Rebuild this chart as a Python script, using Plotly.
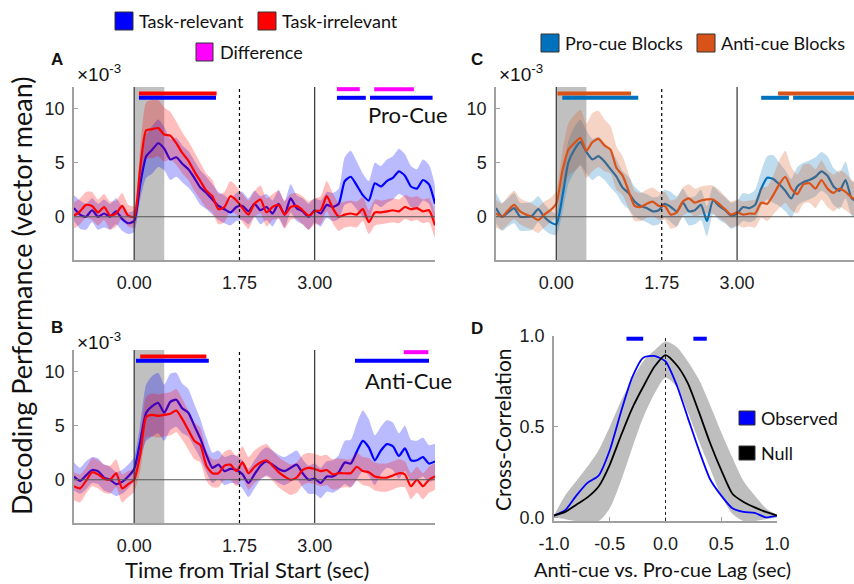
import plotly.graph_objects as go

W, H = 854, 584

# ---------------- data ----------------
t = [round(-1.0 + 0.1 * i, 1) for i in range(61)]

A_rel = [0.8, 0.2, 0.0, 0.6, 0.0, 0.3, 0.0, 0.5, -0.2, -0.6,
         -0.4, 3.0, 5.6, 6.2, 6.8, 6.3, 5.3, 5.5, 4.9, 4.4,
         3.6, 2.7, 2.2, 1.6, 1.0, 0.7, 0.4, 0.9, 1.0, 0.5,
         1.2, 0.6, 0.9, 0.3, 1.2, 0.2, 1.7, 0.8, 0.5, 0.0,
         0.6, 0.3, 1.1, 0.9, 1.2, 3.3, 3.7, 2.9, 2.0, 1.5,
         3.1, 2.8, 3.3, 3.6, 4.2, 3.8, 2.8, 2.6, 3.4, 3.0, 1.2]
A_irr = [0.1, 0.5, 1.1, 1.0, 0.4, 0.9, 0.1, 0.3, 1.0, 0.1,
         0.0, 4.5, 8.0, 8.1, 8.2, 7.6, 7.5, 6.8, 5.9, 5.2,
         4.2, 3.3, 2.4, 1.9, 0.7, 0.9, 1.9, 1.5, 0.8, 0.2,
         1.2, 1.6, 0.4, 0.9, 1.1, 0.2, 0.9, 1.0, 0.6, 0.1,
         0.5, 0.6, 1.9, 0.8, 0.0, 0.2, 0.3, 0.2, 0.7, -0.5,
         0.4, 0.4, 0.5, 0.6, 0.5, 0.9, 0.7, 0.8, 0.5, 0.6, -0.8]
A_rel_sem = [1.2, 1.3, 1.2, 1.1, 1.2, 1.3, 1.2, 1.2, 1.1, 1.0, 1.0,
             1.4, 2.0, 2.2, 2.2, 2.0, 1.9, 1.8, 1.7, 1.7, 1.6, 1.6, 1.5, 1.4, 1.3, 1.3,
             1.2, 1.3, 1.3, 1.2, 1.2, 1.3, 1.2, 1.2, 1.3, 1.2, 1.3, 1.2, 1.2, 1.2, 1.1, 1.2, 1.2, 1.3, 1.4,
             2.2, 2.4, 2.2, 2.0, 1.8, 1.9, 1.9, 2.0, 2.0, 2.1, 2.0, 1.9, 1.8, 1.9, 1.8, 1.6]
A_irr_sem = [1.2, 1.2, 1.2, 1.3, 1.2, 1.2, 1.3, 1.2, 1.2, 1.0, 1.0,
             1.8, 2.6, 2.7, 2.6, 2.5, 2.2, 2.0, 1.9, 1.8, 1.8, 1.7, 1.6, 1.5, 1.4, 1.4,
             1.4, 1.3, 1.3, 1.3, 1.2, 1.3, 1.3, 1.2, 1.3, 1.3, 1.2, 1.2, 1.3, 1.3, 1.2, 1.3, 1.4, 1.4, 1.3,
             1.2, 1.2, 1.2, 1.1, 1.1, 1.2, 1.1, 1.1, 1.1, 1.1, 1.1, 1.1, 1.1, 1.1, 1.1, 1.1]

B_rel = [0.3, -0.1, 0.4, 0.9, 0.8, 0.2, 0.0, -0.4, -0.2, 0.3,
         1.0, 3.5, 6.2, 6.8, 7.1, 6.2, 7.2, 7.4, 6.6, 6.2,
         5.0, 3.8, 2.3, 1.1, 1.4, 0.8, 1.0, 0.9, 0.5, -0.3,
         0.5, 1.3, 1.7, 1.4, 1.0, 0.8, 1.1, 1.4, 0.6, 0.0,
         0.1, -0.3, 0.3, 0.3, 0.7, 1.6, 1.5, 2.6, 3.6, 3.0,
         1.8, 2.7, 3.3, 3.1, 2.2, 2.9, 1.8, 1.8, 2.1, 1.5, 1.7]
B_irr = [-0.6, -0.8, -0.1, 0.7, 0.5, 0.1, 0.0, 0.6, -0.8, -0.4,
         0.0, 2.3, 5.8, 6.0, 5.9, 6.0, 6.1, 6.4, 5.6, 4.6,
         3.6, 3.2, 1.3, 0.6, 0.6, 1.3, 1.4, 0.8, 1.6, 0.6,
         1.2, 1.6, 1.8, 1.3, 0.7, 0.3, 0.0, 0.2, 0.9, 1.1,
         1.0, 0.8, 0.9, 0.5, 0.6, 0.6, 0.6, 1.2, 0.8, 0.7,
         0.3, 0.2, 0.2, 0.4, 0.6, 0.5, -0.6, 0.0, -0.6, 0.0, 0.3]
B_rel_sem = [1.3, 1.2, 1.3, 1.2, 1.2, 1.2, 1.2, 1.1, 1.1, 1.1, 1.1,
             1.6, 2.6, 2.8, 2.8, 2.6, 2.6, 2.5, 2.3, 2.2, 2.0, 1.8, 1.6, 1.4, 1.3, 1.3,
             1.3, 1.3, 1.3, 1.3, 1.3, 1.3, 1.3, 1.3, 1.3, 1.3, 1.3, 1.3, 1.3, 1.3, 1.4, 1.4, 1.4, 1.5, 1.6,
             2.0, 2.2, 2.6, 2.8, 2.6, 2.3, 2.2, 2.2, 2.2, 2.1, 2.1, 1.9, 1.8, 1.8, 1.7, 1.6]
B_irr_sem = [1.3, 1.3, 1.2, 1.3, 1.3, 1.3, 1.3, 1.3, 1.3, 1.2, 1.1,
             1.5, 1.9, 2.0, 2.0, 2.0, 2.0, 2.0, 1.9, 1.8, 1.7, 1.6, 1.4, 1.3, 1.3, 1.3,
             1.4, 1.4, 1.5, 1.5, 1.5, 1.5, 1.5, 1.4, 1.4, 1.4, 1.4, 1.4, 1.4, 1.4, 1.4, 1.4, 1.4, 1.4, 1.4,
             1.3, 1.3, 1.3, 1.3, 1.3, 1.3, 1.3, 1.3, 1.3, 1.3, 1.2, 1.2, 1.2, 1.2, 1.2, 1.2]

C_pro = [0.8, 0.0, 0.4, 0.8, 0.0, 0.0, 0.1, 0.7, 0.0, -0.5,
         -0.7, 1.8, 5.0, 6.2, 6.9, 6.0, 5.3, 5.6, 5.1, 4.4,
         3.7, 2.7, 2.2, 1.4, 1.0, 0.8, 0.5, 0.6, 1.2, 0.9,
         0.5, 1.3, 0.5, 0.6, 1.1, -0.4, 1.5, 1.0, 0.6, 0.1,
         0.3, 0.9, 0.8, 1.1, 2.6, 3.6, 3.5, 3.0, 2.4, 1.7,
         2.8, 3.2, 3.4, 3.7, 4.2, 3.8, 2.8, 2.4, 3.4, 1.7, 1.4]
C_anti = [0.3, 0.0, 0.6, 1.1, 0.5, 0.2, 0.0, -0.3, 0.2, 0.6,
          1.2, 4.2, 6.2, 6.8, 7.3, 6.1, 6.9, 7.2, 6.6, 6.2,
          4.5, 3.8, 2.4, 1.0, 0.9, 1.2, 1.4, 1.0, 1.0, 0.2,
          0.4, 1.4, 1.7, 1.3, 1.5, 1.6, 1.6, 1.2, 0.7, 0.2,
          0.4, 0.2, 0.3, 0.3, 1.3, 1.2, 2.0, 3.0, 3.7, 2.6,
          2.1, 3.0, 3.1, 2.6, 3.4, 2.6, 2.2, 2.6, 2.3, 1.8, 1.5]
C_pro_sem = [1.4, 1.3, 1.3, 1.4, 1.3, 1.3, 1.3, 1.2, 1.2, 1.1, 1.0,
             1.5, 2.0, 2.1, 2.1, 2.0, 1.9, 1.8, 1.7, 1.7, 1.6, 1.5, 1.5, 1.4, 1.3, 1.3,
             1.3, 1.3, 1.3, 1.4, 1.4, 1.3, 1.3, 1.3, 1.4, 1.4, 1.3, 1.3, 1.2, 1.2, 1.2, 1.3, 1.3, 1.4, 1.6,
             2.0, 2.2, 2.0, 1.9, 1.8, 1.8, 1.8, 1.8, 1.8, 1.8, 1.8, 1.7, 1.7, 1.7, 1.6, 1.6]
C_anti_sem = [1.3, 1.2, 1.3, 1.3, 1.2, 1.2, 1.2, 1.2, 1.2, 1.1, 1.2,
              1.8, 2.4, 2.6, 2.6, 2.5, 2.7, 2.6, 2.4, 2.2, 2.0, 1.8, 1.6, 1.4, 1.3, 1.3,
              1.3, 1.3, 1.3, 1.3, 1.3, 1.3, 1.3, 1.3, 1.3, 1.3, 1.3, 1.3, 1.2, 1.2, 1.2, 1.2, 1.2, 1.3, 1.4,
              1.6, 1.8, 2.2, 2.4, 2.0, 1.8, 1.8, 1.8, 1.8, 1.8, 1.7, 1.7, 1.7, 1.7, 1.6, 1.6]

# significance bars (start, end) in seconds
A_sig_irr = [(0.08, 1.37)]
A_sig_rel = [(0.08, 1.36), (3.37, 3.85), (3.92, 4.96)]
A_sig_diff = [(3.37, 3.75), (3.99, 4.65)]
B_sig_irr = [(0.10, 1.20)]
B_sig_rel = [(0.03, 1.24), (3.67, 4.90)]
B_sig_diff = [(4.48, 4.89)]
C_sig_anti = [(0.02, 1.24), (3.68, 5.0)]
C_sig_pro = [(0.10, 1.36), (3.40, 3.86), (3.93, 5.0)]
D_sig_obs = [(-0.35, -0.20), (0.25, 0.37)]

# cross-correlation panel
lag = [round(-1.0 + 0.1 * i, 1) for i in range(21)]
D_null = [0.01, 0.03, 0.07, 0.11, 0.17, 0.29, 0.45, 0.60, 0.72, 0.83, 0.895,
          0.84, 0.74, 0.58, 0.41, 0.26, 0.13, 0.085, 0.055, 0.03, 0.01]
D_obs = [0.01, 0.04, 0.12, 0.19, 0.23, 0.37, 0.58, 0.77, 0.88, 0.89, 0.86,
         0.73, 0.55, 0.37, 0.21, 0.12, 0.05, 0.03, 0.025, 0.0, 0.01]
D_null_hi = [0.01, 0.12, 0.20, 0.28, 0.37, 0.50, 0.64, 0.76, 0.86, 0.92, 0.97,
             0.94, 0.86, 0.76, 0.62, 0.47, 0.33, 0.20, 0.12, 0.05, 0.01]
D_null_lo = [0.0, -0.01, -0.02, -0.02, -0.02, 0.05, 0.20, 0.38, 0.55, 0.68, 0.77,
             0.72, 0.58, 0.42, 0.27, 0.12, 0.02, -0.02, -0.02, -0.01, 0.0]

event_times = [0.0, 1.75, 3.0]
cue_window = (0.0, 0.5)

# ---------------- helpers ----------------
TICKF = "Liberation Sans"
TEXTF = "Lato"


def PX(x):
    return x / W


def PY(y):
    return 1 - y / H


fig = go.Figure()


def band(xax, yax, x, m, s, fillcol):
    up = [a + b for a, b in zip(m, s)]
    lo = [a - b for a, b in zip(m, s)]
    fig.add_trace(go.Scatter(x=list(x) + list(x)[::-1], y=up + lo[::-1], fill="toself",
                             fillcolor=fillcol, line=dict(width=0, shape="spline", smoothing=0.6),
                             mode="lines", hoverinfo="skip", showlegend=False,
                             xaxis=xax, yaxis=yax))


def line(xax, yax, x, y, col, w=2.2, shape="spline"):
    fig.add_trace(go.Scatter(x=x, y=y, mode="lines",
                             line=dict(color=col, width=w, shape=shape, smoothing=0.6),
                             hoverinfo="skip", showlegend=False, xaxis=xax, yaxis=yax))


def sig(xax, yax, segs, level, col):
    for s, e in segs:
        fig.add_trace(go.Scatter(x=[s, e], y=[level, level], mode="lines",
                                 line=dict(color=col, width=4), hoverinfo="skip",
                                 showlegend=False, xaxis=xax, yaxis=yax))


BLUE, RED, MAG = "#0000ff", "#ff0000", "#ff00ff"
MB, MO = "#0072BD", "#D95319"

# Panel A
band("x", "y", t, A_rel, A_rel_sem, "rgba(0,0,255,0.27)")
line("x", "y", t, A_rel, BLUE)
band("x", "y", t, A_irr, A_irr_sem, "rgba(255,0,0,0.26)")
line("x", "y", t, A_irr, RED)
sig("x", "y", A_sig_irr, 11.4, RED)
sig("x", "y", A_sig_rel, 11.0, BLUE)
sig("x", "y", A_sig_diff, 11.8, MAG)

# Panel B
band("x2", "y2", t, B_rel, B_rel_sem, "rgba(0,0,255,0.27)")
line("x2", "y2", t, B_rel, BLUE)
band("x2", "y2", t, B_irr, B_irr_sem, "rgba(255,0,0,0.26)")
line("x2", "y2", t, B_irr, RED)
sig("x2", "y2", B_sig_irr, 11.4, RED)
sig("x2", "y2", B_sig_rel, 11.0, BLUE)
sig("x2", "y2", B_sig_diff, 11.8, MAG)

# Panel C
band("x3", "y3", t, C_pro, C_pro_sem, "rgba(0,114,189,0.25)")
line("x3", "y3", t, C_pro, MB)
band("x3", "y3", t, C_anti, C_anti_sem, "rgba(217,83,25,0.25)")
line("x3", "y3", t, C_anti, MO)
sig("x3", "y3", C_sig_anti, 11.4, MO)
sig("x3", "y3", C_sig_pro, 11.0, MB)

# Panel D
fig.add_trace(go.Scatter(x=lag + lag[::-1], y=D_null_hi + D_null_lo[::-1], fill="toself",
                         fillcolor="rgba(190,190,190,1)", mode="lines",
                         line=dict(width=0, shape="spline", smoothing=0.8),
                         hoverinfo="skip", showlegend=False, xaxis="x4", yaxis="y4"))
line("x4", "y4", lag, D_obs, BLUE, w=1.8)
line("x4", "y4", lag, D_null, "#000000", w=1.8)
sig("x4", "y4", D_sig_obs, 0.985, BLUE)

# ---------------- axes ----------------
AX = dict(showgrid=False, zeroline=False, showline=True, linecolor="#a0a0a0", linewidth=1.5,
          tickfont=dict(family=TICKF, size=18, color="#1a1a1a"), ticks="inside",
          ticklen=4, tickcolor="#a0a0a0", fixedrange=True, automargin=False)

panels = {
    "": ([74, 435], [87, 260]),
    "2": ([74, 435], [350, 523]),
    "3": ([496, 854], [87, 260]),
}
shapes = []
for k, (xd, yd) in panels.items():
    xr = [-1, 5] if k != "3" else [-1, 4.94]
    fig.layout["xaxis" + k] = dict(AX, domain=[PX(xd[0]), PX(xd[1])], range=xr,
                                   anchor="y" + k, tickvals=[0, 1.75, 3.0],
                                   ticktext=["0.00", "1.75", "3.00"], ticks="",
                                   ticklabelstandoff=6)
    fig.layout["yaxis" + k] = dict(AX, domain=[PY(yd[1]), PY(yd[0])], range=[-4, 12],
                                   anchor="x" + k, tickvals=[0, 5, 10],
                                   ticklabelstandoff=4)
    xr_ = "x" + k
    yr_ = "y" + k
    shapes.append(dict(type="rect", xref=xr_, yref=yr_ + " domain", x0=cue_window[0],
                       x1=cue_window[1], y0=0, y1=1, fillcolor="rgba(150,150,150,0.6)",
                       line=dict(width=0), layer="below"))
    shapes.append(dict(type="line", xref=xr_ + " domain", yref=yr_, x0=0, x1=1, y0=0, y1=0,
                       line=dict(color="#555555", width=1.2), layer="above"))
    for et in event_times:
        shapes.append(dict(type="line", xref=xr_, yref=yr_ + " domain", x0=et, x1=et,
                           y0=0, y1=1,
                           line=dict(color="#333333" if et != 1.75 else "#000000",
                                     width=1.2, dash="solid" if et != 1.75 else "dot"),
                           layer="above"))

fig.layout["xaxis4"] = dict(AX, domain=[PX(554), PX(777)], range=[-1, 1], anchor="y4",
                            tickvals=[-1, -0.5, 0, 0.5, 1],
                            ticktext=["-1.0", "-0.5", "0.0", "0.5", "1.0"],
                            ticklabelstandoff=6)
fig.layout["yaxis4"] = dict(AX, domain=[PY(521), PY(336)], range=[-0.02, 1.0], anchor="x4",
                            tickvals=[0, 0.5, 1.0], ticktext=["0.0", "0.5", "1.0"],
                            ticklabelstandoff=4)
shapes.append(dict(type="line", xref="x4", yref="y4 domain", x0=0, x1=0, y0=0, y1=1,
                   line=dict(color="#222222", width=1, dash="dot"), layer="above"))


# ---------------- legends / labels ----------------
def box(x0, y0, x1, y1, col):
    shapes.append(dict(type="rect", xref="paper", yref="paper", x0=PX(x0), x1=PX(x1),
                       y0=PY(y1), y1=PY(y0), fillcolor=col,
                       line=dict(color="#333333", width=1)))


ann = []


def text(x, y, s, size=18, xanchor="left", bold=False, font=TEXTF, angle=0):
    ann.append(dict(x=PX(x), y=PY(y), xref="paper", yref="paper", text=("<b>%s</b>" % s) if bold else s,
                    showarrow=False, xanchor=xanchor, yanchor="middle", textangle=angle,
                    font=dict(family=font, size=size, color="#111111")))


box(115, 12, 133, 30, BLUE)
text(137, 21, "Task-relevant")
box(258, 12, 276, 30, RED)
text(280, 21, "Task-irrelevant")
box(196, 43, 213, 61, MAG)
text(218, 52, "Difference")

box(541, 34, 559, 52, MB)
text(563, 43, "Pro-cue Blocks")
box(697, 34, 715, 52, MO)
text(719, 43, "Anti-cue Blocks")

box(739, 411, 755, 425, BLUE)
text(759, 418, "Observed")
box(739, 446, 755, 460, "#000000")
text(759, 453, "Null")

text(57, 60, "A", size=17, xanchor="center", bold=True, font=TICKF)
text(57, 327, "B", size=17, xanchor="center", bold=True, font=TICKF)
text(477, 60, "C", size=17, xanchor="center", bold=True, font=TICKF)
text(477, 328, "D", size=17, xanchor="center", bold=True, font=TICKF)

for (x, y) in [(75, 73), (75, 341), (497, 73)]:
    text(x, y, "×10<sup>-3</sup>", size=19, font=TICKF)

text(450, 114, "Pro-Cue", size=22, xanchor="right")
text(454, 380, "Anti-Cue", size=22, xanchor="right")

text(21, 296, "Decoding Performance (vector mean)", size=27, xanchor="center", angle=-90)
text(247, 569, "Time from Trial Start (sec)", size=22, xanchor="center")
text(503, 430, "Cross-Correlation", size=21, xanchor="center", angle=-90)
text(662, 569, "Anti-cue vs. Pro-cue Lag (sec)", size=20, xanchor="center")

fig.update_layout(width=W, height=H, margin=dict(l=0, r=0, t=0, b=0, pad=0),
                  paper_bgcolor="white", plot_bgcolor="white",
                  shapes=shapes, annotations=ann, showlegend=False)

fig.write_html("out.html")
